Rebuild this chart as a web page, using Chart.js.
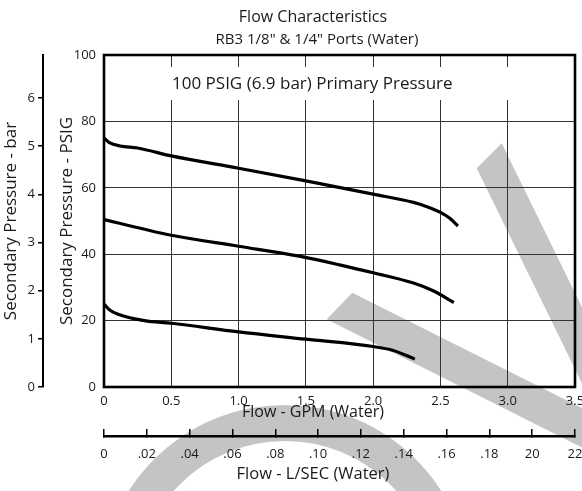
<!DOCTYPE html>
<html><head><meta charset="utf-8">
<script src="https://cdn.jsdelivr.net/npm/chart.js@4/dist/chart.umd.min.js"></script>
<style>html,body{margin:0;padding:0;background:#fff;}</style>
</head><body>
<canvas id="c" width="582" height="491"></canvas>
<script>
// ---- text ----
const chartTitle = 'Flow Characteristics';
const chartSubtitle = 'RB3 1/8" & 1/4" Ports (Water)';
const noteText = '100 PSIG (6.9 bar) Primary Pressure';
const xTitle = 'Flow - GPM (Water)';
const x2Title = 'Flow - L/SEC (Water)';
const yTitle = 'Secondary Pressure - PSIG';
const y2Title = 'Secondary Pressure - bar';

// ---- tick labels ----
const gpmValues = [0, 0.5, 1.0, 1.5, 2.0, 2.5, 3.0, 3.5];
const gpmLabels = ['0', '0.5', '1.0', '1.5', '2.0', '2.5', '3.0', '3.5'];
const lsecValues = [0, 0.02, 0.04, 0.06, 0.08, 0.10, 0.12, 0.14, 0.16, 0.18, 0.20, 0.22];
const lsecLabels = ['0', '.02', '.04', '.06', '.08', '.10', '.12', '.14', '.16', '.18', '20', '22'];
const psiValues = [0, 20, 40, 60, 80, 100];
const barValues = [0, 1, 2, 3, 4, 5, 6];

// ---- series (flow GPM, secondary pressure PSIG) ----
const upperFlow = [0, 0.04, 0.12, 0.25, 0.5, 1.0, 1.5, 2.0, 2.3, 2.4, 2.5, 2.57, 2.63];
const upperPsi  = [75, 73.6, 72.6, 72.0, 69.6, 65.9, 62.1, 58.1, 55.6, 54.3, 52.6, 50.8, 48.5];
const middleFlow = [0, 0.5, 1.0, 1.45, 1.75, 2.0, 2.3, 2.45, 2.6];
const middlePsi  = [50.4, 45.7, 42.4, 39.4, 36.8, 34.4, 31.3, 28.9, 25.4];
const lowerFlow = [0, 0.04, 0.1, 0.3, 0.5, 1.0, 1.5, 2.0, 2.15, 2.31];
const lowerPsi  = [25, 23.3, 22, 20, 19.2, 16.6, 14.4, 12.2, 11, 8.4];

const PSI_PER_BAR = 14.5038;
const FONT = '"Open Sans", "DejaVu Sans", sans-serif';
const INK = '#1a1a1a';

function pts(xs, ys) { return xs.map((x, i) => ({ x: x, y: ys[i] })); }
function series(xs, ys) {
  return {
    data: pts(xs, ys), borderColor: '#000', borderWidth: 3.2,
    pointRadius: 0, fill: false, cubicInterpolationMode: 'monotone',
    borderCapStyle: 'butt'
  };
}

const decor = {
  id: 'decor',
  beforeDraw(chart) {
    const ctx = chart.ctx;
    ctx.save();
    ctx.fillStyle = '#fff';
    ctx.fillRect(0, 0, chart.width, chart.height);
    // watermark strokes (decoration only)
    ctx.fillStyle = '#c4c4c4';
    function band(ax, ay, bx, by, dx, dy) {
      const L = 500;
      ctx.beginPath();
      ctx.moveTo(ax, ay); ctx.lineTo(bx, by);
      ctx.lineTo(bx + dx * L, by + dy * L); ctx.lineTo(ax + dx * L, ay + dy * L);
      ctx.closePath(); ctx.fill();
    }
    band(476.7, 168.3, 501.7, 143.3, 0.44, 0.898);
    band(326.7, 319.3, 352.3, 292.7, 0.894, 0.449);
    ctx.beginPath();
    ctx.arc(285, 590, 185, Math.PI, 2 * Math.PI);
    ctx.arc(285, 590, 149, 2 * Math.PI, Math.PI, true);
    ctx.closePath(); ctx.fill();
    ctx.restore();
  },
  beforeDatasetsDraw(chart) {
    const ctx = chart.ctx, a = chart.chartArea;
    ctx.save();
    ctx.fillStyle = '#fff';
    ctx.fillRect(a.left + 2, a.top + 12, a.right - a.left - 4, 33);
    ctx.fillStyle = INK;
    ctx.font = '17px ' + FONT;
    ctx.textAlign = 'left'; ctx.textBaseline = 'middle';
    ctx.fillText(noteText, a.left + 68, a.top + 29);
    ctx.strokeStyle = '#000'; ctx.lineWidth = 2.6;
    ctx.strokeRect(a.left, a.top, a.right - a.left, a.bottom - a.top);
    ctx.restore();
  },
  afterDraw(chart) {
    const ctx = chart.ctx;
    const cx = 313;
    ctx.save();
    ctx.fillStyle = INK;
    ctx.textAlign = 'center'; ctx.textBaseline = 'middle';
    ctx.font = '16px ' + FONT;
    ctx.fillText(chartTitle, cx, 17);
    ctx.font = '15px ' + FONT;
    ctx.fillText(chartSubtitle, cx + 4, 40);
    ctx.font = '16px ' + FONT;
    ctx.fillText(xTitle, cx, 412);
    ctx.font = '16.5px ' + FONT;
    ctx.fillText(x2Title, cx, 474);
    ctx.restore();
  }
};

new Chart(document.getElementById('c'), {
  type: 'line',
  data: { datasets: [series(upperFlow, upperPsi), series(middleFlow, middlePsi), series(lowerFlow, lowerPsi)] },
  options: {
    responsive: false, animation: false, devicePixelRatio: 1,
    layout: { padding: { top: 55, right: 7, left: 0, bottom: 0 } },
    plugins: { legend: { display: false }, tooltip: { enabled: false }, title: { display: false } },
    scales: {
      x: {
        type: 'linear', position: 'bottom', weight: 0, min: 0, max: 3.5,
        afterBuildTicks: s => { s.ticks = gpmValues.map(v => ({ value: v })); },
        ticks: { callback: v => gpmLabels[gpmValues.indexOf(v)], color: INK, padding: 6, maxRotation: 0, autoSkip: false, font: { family: FONT, size: 13 } },
        grid: { color: '#333', lineWidth: 1, drawTicks: false },
        border: { display: false },
        afterFit: s => { s.height = 49; s.paddingLeft = 0; s.paddingRight = 0; }
      },
      x2: {
        type: 'linear', position: 'bottom', weight: 1, min: 0, max: 0.22,
        afterBuildTicks: s => { s.ticks = lsecValues.map(v => ({ value: v })); },
        ticks: { callback: v => lsecLabels[lsecValues.indexOf(v)], color: INK, padding: 17, maxRotation: 0, autoSkip: false, font: { family: FONT, size: 13 } },
        grid: { drawOnChartArea: false, tickLength: -7, color: '#000', lineWidth: 1.5 },
        border: { display: true, color: '#000', width: 2.5 },
        afterFit: s => { s.height = 55; s.paddingLeft = 0; s.paddingRight = 0; }
      },
      y: {
        type: 'linear', position: 'left', weight: 0, min: 0, max: 100,
        afterBuildTicks: s => { s.ticks = psiValues.map(v => ({ value: v })); },
        ticks: { color: INK, padding: 8, font: { family: FONT, size: 13 } },
        grid: { color: '#333', lineWidth: 1, drawTicks: false },
        border: { display: false },
        title: { display: true, text: yTitle, color: INK, font: { family: FONT, size: 17 }, padding: { top: 14, bottom: 0 } },
        afterFit: s => { s.width = 61; s.paddingTop = 0; s.paddingBottom = 0; }
      },
      y2: {
        type: 'linear', position: 'left', weight: 1, min: 0, max: 100 / PSI_PER_BAR,
        afterBuildTicks: s => { s.ticks = barValues.map(v => ({ value: v })); },
        ticks: { color: INK, padding: 3, font: { family: FONT, size: 13 } },
        grid: { drawOnChartArea: false, tickLength: 5, color: '#000', lineWidth: 1.5 },
        border: { display: true, color: '#000', width: 2 },
        title: { display: true, text: y2Title, color: INK, font: { family: FONT, size: 17 }, padding: { top: 1, bottom: 0 } },
        afterFit: s => { s.width = 43; s.paddingTop = 0; s.paddingBottom = 0; }
      }
    }
  },
  plugins: [decor]
});
</script>
</body></html>
